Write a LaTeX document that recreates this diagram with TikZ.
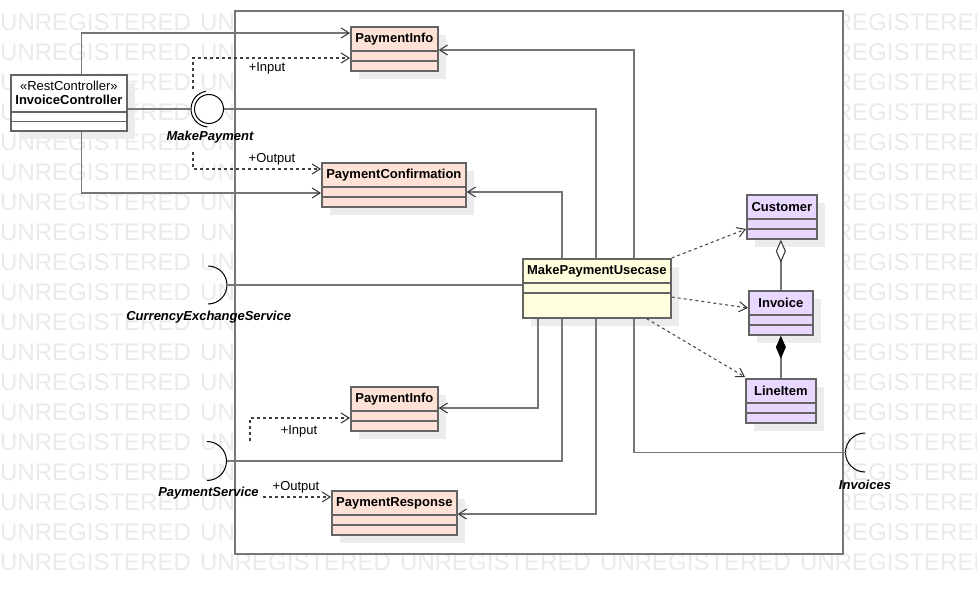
\documentclass[tikz,border=0pt]{standalone}
\usepackage{fontspec}
\setmainfont{Liberation Sans}
\usetikzlibrary{arrows.meta,calc,shadows}
\definecolor{peach}{RGB}{255,226,214}
\definecolor{lav}{RGB}{232,216,255}
\definecolor{ylw}{RGB}{255,255,221}
\definecolor{bord}{RGB}{100,100,100}
\definecolor{conng}{RGB}{118,118,118}
\definecolor{wmark}{RGB}{234,234,234}
\definecolor{shad}{RGB}{236,236,236}
\newcommand{\cmplines}[3]{%
  \draw[bordline] ($(#1.north west)+(0,#2)$) -- ($(#1.north east)+(0,#2)$);
  \draw[bordline] ($(#1.north west)+(0,#3)$) -- ($(#1.north east)+(0,#3)$);}
\begin{document}
\begin{tikzpicture}[x=1pt,y=-1pt,
  wm/.style={text=wmark, font=\fontsize{24}{24}\selectfont, inner sep=0, anchor=base west},
  cls/.style={draw=bord, line width=1.7pt, anchor=north west, inner sep=0,
    general shadow={shadow xshift=8pt, shadow yshift=-8pt, fill=shad}},
  bordline/.style={draw=bord, line width=1.7pt},
  clsname/.style={font=\fontsize{13}{15}\selectfont\bfseries, inner sep=0},
  lab/.style={font=\fontsize{13}{15}\selectfont, inner sep=0},
  ilab/.style={font=\fontsize{13}{15}\selectfont\bfseries\itshape, inner sep=0},
  conn/.style={draw=conng, line width=1.8pt},
  dotl/.style={draw=black!75, line width=1.1pt, dash pattern=on 3pt off 3pt},
  sock/.style={draw=black, line width=1pt},
  arr/.style={-{Straight Barb[length=8pt,width=10pt,line width=1pt,color=black!80]}},
]
\useasboundingbox (0,0) rectangle (977,594);
\clip (0,0) rectangle (977,594);
\fill[white] (0,0) rectangle (977,594);
% watermark: beside the frame
\foreach \r in {1,...,18} {
  \node[wm] (wmL-\r) at (0, \r*30+0.7) {UNREGISTERED};
  \node[wm] (wmM-\r) at (200, \r*30+0.7) {UN};
  \node[wm] (wmR-\r) at (800, \r*30+0.7) {UNREGISTERED};
}
% watermark: below the frame
\foreach \c in {0,...,4} {
  \node[wm] (wmB-\c) at (\c*200, 570.7) {UNREGISTERED};
}
% system frame
\node[draw=conng, line width=2pt, fill=white, anchor=north west, inner sep=0,
  minimum width=608, minimum height=543] (sys) at (234,10) {};

% classes
\node[cls, fill=white, minimum width=116, minimum height=56] (ic) at (10,74) {};
\node[lab] (ic-s) at ($(ic.north)+(0,11.5)$) {«RestController»};
\node[clsname] (ic-n) at ($(ic.north)+(0,26)$) {InvoiceController};
\cmplines{ic}{38}{47.5}

\node[cls, fill=peach, minimum width=87, minimum height=44] (pi1) at (350,26) {};
\node[clsname] (pi1-n) at ($(pi1.north)+(0,13)$) {PaymentInfo};
\cmplines{pi1}{25}{35}

\node[cls, fill=peach, minimum width=144, minimum height=44] (pc) at (321,162) {};
\node[clsname] (pc-n) at ($(pc.north)+(0,13)$) {PaymentConfirmation};
\cmplines{pc}{25}{35}

\node[cls, fill=ylw, minimum width=148, minimum height=59] (mpu) at (522,258) {};
\node[clsname] (mpu-n) at ($(mpu.north)+(0,13)$) {MakePaymentUsecase};
\cmplines{mpu}{25}{35}

\node[cls, fill=lav, minimum width=70, minimum height=44] (cu) at (746,194) {};
\node[clsname] (cu-n) at ($(cu.north)+(0,13)$) {Customer};
\cmplines{cu}{25}{35}

\node[cls, fill=lav, minimum width=64, minimum height=44] (iv) at (748,290) {};
\node[clsname] (iv-n) at ($(iv.north)+(0,13)$) {Invoice};
\cmplines{iv}{25}{35}

\node[cls, fill=lav, minimum width=70, minimum height=44] (li) at (745,378) {};
\node[clsname] (li-n) at ($(li.north)+(0,13)$) {LineItem};
\cmplines{li}{25}{35}

\node[cls, fill=peach, minimum width=87, minimum height=44] (pi2) at (350,386) {};
\node[clsname] (pi2-n) at ($(pi2.north)+(0,13)$) {PaymentInfo};
\cmplines{pi2}{25}{35}

\node[cls, fill=peach, minimum width=125, minimum height=44] (pr) at (331,490) {};
\node[clsname] (pr-n) at ($(pr.north)+(0,13)$) {PaymentResponse};
\cmplines{pr}{25}{35}

% interfaces
\node[circle, draw=black, line width=1pt, fill=white, minimum size=29, inner sep=0] (mp) at (209,109) {};
\draw[sock] ($(mp.center)+(100:18pt)$) arc[start angle=100, end angle=265, radius=18pt];
\node[ilab] (mp-l) at (210,137.5) {MakePayment};

\coordinate (ces) at (208,285);
\draw[sock] ($(ces)+(0,-19)$) arc[start angle=90, end angle=-90, radius=19pt];
\node[ilab] (ces-l) at (208.7,317) {CurrencyExchangeService};

\coordinate (ps) at (207,461);
\draw[sock] ($(ps)+(0,-19.5)$) arc[start angle=90, end angle=-90, radius=19.5pt];
\node[ilab] (ps-l) at (208.5,493) {PaymentService};

\coordinate (ivs) at (865,452.5);
\draw[sock] ($(ivs)+(0,-19.5)$) arc[start angle=90, end angle=270, radius=19.5pt];
\node[ilab] (ivs-l) at (865,484.5) {Invoices};

% connectors from InvoiceController
\draw[conn, arr] ($(ic.north west)+(71.5,0)$) |- ($(pi1.north west)+(0,7)$);
\draw[conn, arr] ($(ic.south west)+(71.5,0)$) |- ($(pc.north west)+(0,31)$);
\draw[conn] (ic.east |- mp) -- ($(mp.center)+(-18,0)$);

% connectors from MakePaymentUsecase
\draw[conn] (mp.east) -| ($(mpu.north west)+(74,0)$);
\draw[conn, arr] ($(mpu.north west)+(40,0)$) |- ($(pc.north east)+(0,30)$);
\draw[conn, arr] ($(mpu.north west)+(112,0)$) |- ($(pi1.north east)+(0,24)$);
\draw[conn] ($(ces)+(19,0)$) -- (mpu.west |- ces);
\draw[conn, arr] ($(mpu.south west)+(16,0)$) |- ($(pi2.north east)+(0,22)$);
\draw[conn] ($(mpu.south west)+(40,0)$) |- ($(ps)+(19.5,0)$);
\draw[conn, arr] ($(mpu.south west)+(74,0)$) |- ($(pr.north east)+(0,24)$);
\draw[conn] ($(mpu.south west)+(112,0)$) |- ($(ivs)+(-19.5,0)$);

% input / output dotted
\coordinate (inA) at (193,89);
\coordinate (outA) at (193,152);
\coordinate (inB) at (250,441);
\coordinate (outB) at (263,497);
\draw[dotl, arr] (inA) |- ($(pi1.north west)+(0,32)$);
\node[lab] (inA-l) at (267,68) {+Input};
\draw[dotl, arr] (outA) |- ($(pc.north west)+(0,7)$);
\node[lab] (outA-l) at (272,159.5) {+Output};
\draw[dotl, arr] (inB) |- ($(pi2.north west)+(0,32)$);
\node[lab] (inB-l) at (299,431) {+Input};
\draw[dotl, arr] (outB) -- ($(pr.north west)+(0,7)$);
\node[lab] (outB-l) at (296,487) {+Output};

% dependencies to entities
\draw[dotl, line width=1pt, arr] (mpu.north east) -- ($(cu.north west)+(0,35)$);
\draw[dotl, line width=1pt, arr] ($(mpu.north east)+(0,39)$) -- ($(iv.north west)+(0,18)$);
\draw[dotl, line width=1pt, arr] ($(mpu.south east)+(-25,0)$) -- ($(li.north west)+(0,-1)$);

% aggregation and composition
\draw[conn, {Diamond[open, fill=white, length=23pt, width=10pt, line width=1pt, color=black!80]}-] (iv.north |- cu.south) -- (iv.north);
\draw[conn, {Diamond[length=23pt, width=10pt, color=black]}-] (iv.south) -- (iv.south |- li.north);
\end{tikzpicture}
\end{document}
